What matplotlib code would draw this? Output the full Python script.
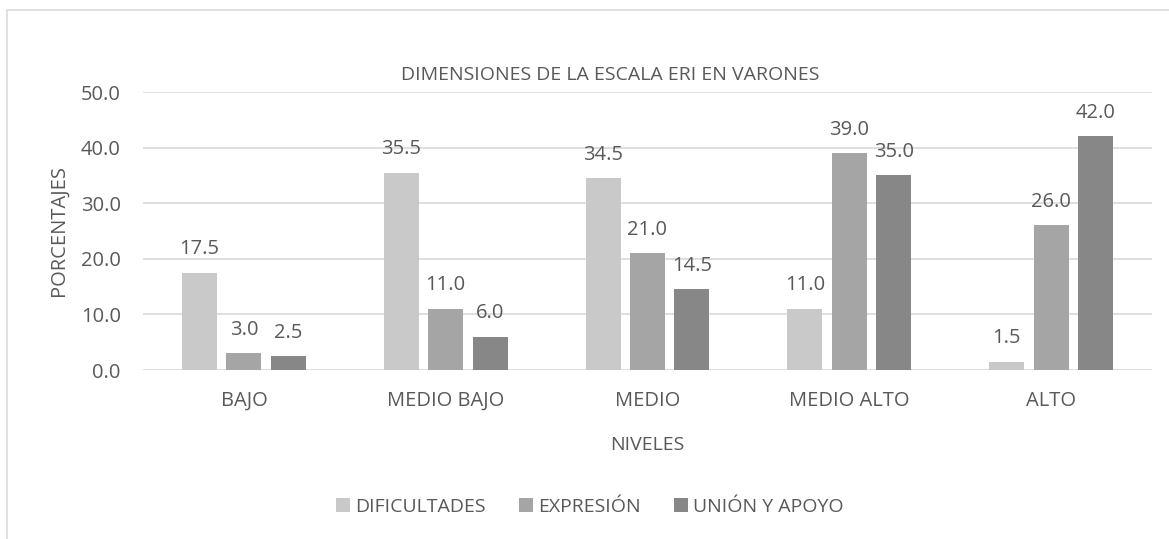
import matplotlib
matplotlib.use("Agg")
from matplotlib import pyplot as plt
from matplotlib.patches import Rectangle
import numpy as np

plt.rcParams["font.family"] = ["Open Sans", "DejaVu Sans"]

niveles = ["BAJO", "MEDIO BAJO", "MEDIO", "MEDIO ALTO", "ALTO"]
series = ["DIFICULTADES", "EXPRESIÓN", "UNIÓN Y APOYO"]
dificultades = [17.5, 35.5, 34.5, 11.0, 1.5]
expresion = [3.0, 11.0, 21.0, 39.0, 26.0]
union_apoyo = [2.5, 6.0, 14.5, 35.0, 42.0]
colores = ["#c9c9c9", "#a5a5a5", "#878787"]
txt = "#595959"

fig = plt.figure(figsize=(11.69, 5.39), dpi=100)
ax = fig.add_axes([143 / 1169, 1 - 370 / 539, 1009 / 1169, 278 / 539])

x = np.arange(len(niveles))
w = 0.173
step = 0.22
for i, (vals, nombre) in enumerate(zip([dificultades, expresion, union_apoyo], series)):
    bars = ax.bar(x + (i - 1) * step, vals, w, color=colores[i], label=nombre, zorder=3)
    for b, v in zip(bars, vals):
        ax.text(b.get_x() + b.get_width() / 2, v + 2.4, f"{v:.1f}", ha="center",
                va="bottom", fontsize=14.5, color=txt)

ax.set_xlim(-0.5, 4.5)
ax.set_ylim(0, 50)
ax.set_yticks(np.arange(0, 51, 10))
ax.set_yticklabels([f"{v:.1f}" for v in np.arange(0, 51, 10)])
ax.set_xticks(x)
ax.set_xticklabels(niveles)
ax.tick_params(length=0, labelsize=14.5, colors=txt)
ax.tick_params(axis="y", pad=16)
ax.tick_params(axis="x", pad=15)
ax.grid(axis="y", color="#d9d9d9", linewidth=1.2, zorder=0)
for s in ax.spines.values():
    s.set_visible(False)

ax.set_xlabel("NIVELES", fontsize=14, color=txt, labelpad=18)
ax.set_ylabel("PORCENTAJES", fontsize=14.5, color=txt, labelpad=9)
fig.text(610 / 1169, 1 - 75 / 539, "DIMENSIONES DE LA ESCALA ERI EN VARONES",
         ha="center", va="center", fontsize=14, color=txt)

fig.legend(loc="center", bbox_to_anchor=(590 / 1169, 1 - 507 / 539), ncol=3,
           frameon=False, fontsize=14, labelcolor=txt, handlelength=0.7,
           handleheight=0.7, columnspacing=1.7, handletextpad=0.3)

fig.patches.append(Rectangle((7 / 1169, -0.05), 1.1, 0.05 + 1 - 10 / 539,
                             transform=fig.transFigure, fill=False,
                             edgecolor="#d9d9d9", linewidth=1.2))

fig.savefig("out.png", dpi=100)
